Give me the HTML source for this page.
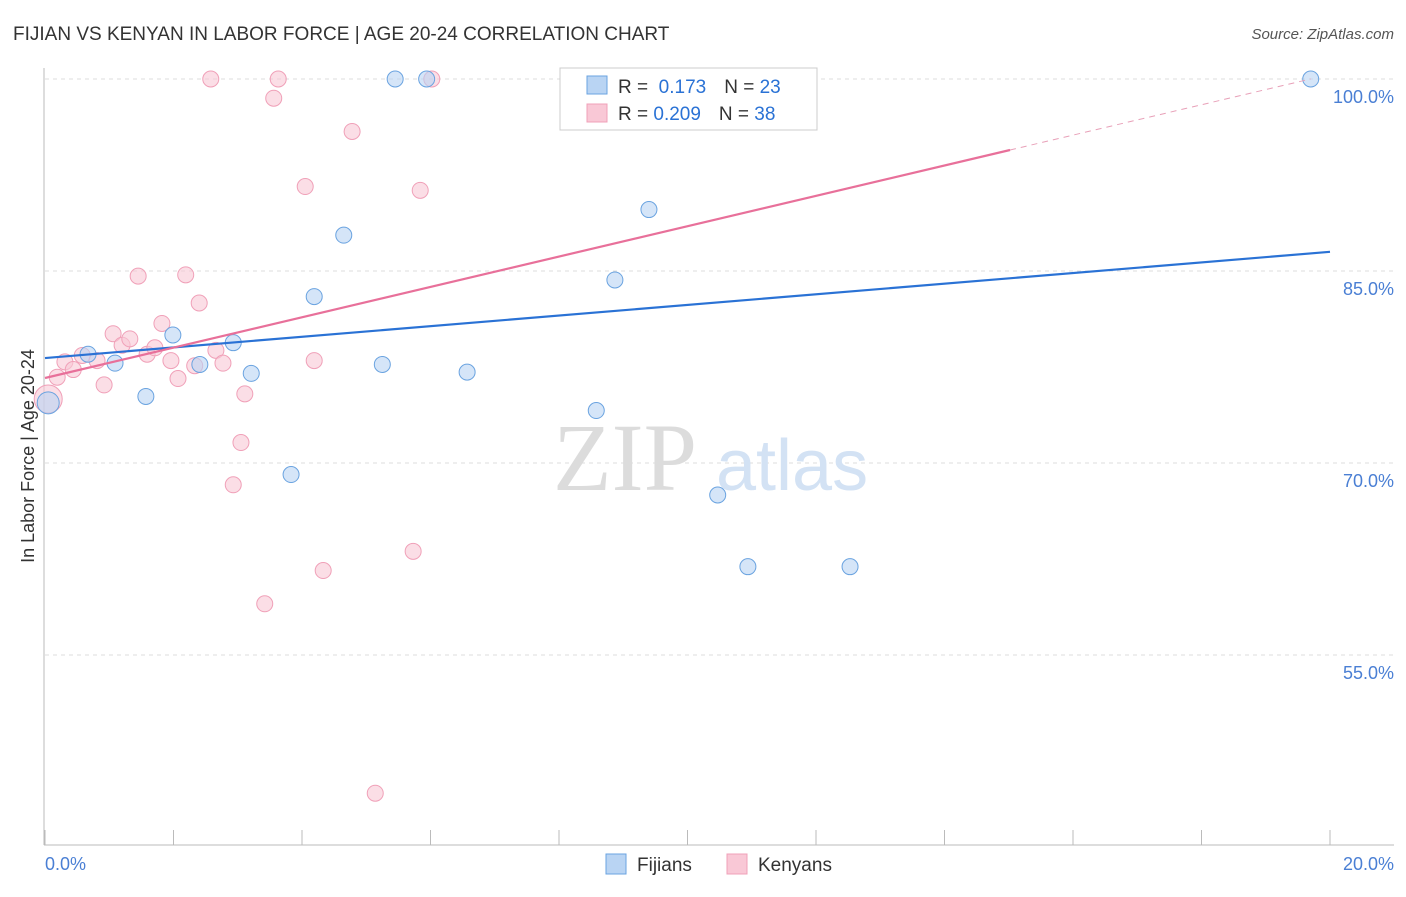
<!DOCTYPE html>
<html><head><meta charset="utf-8"><style>
body{margin:0;background:#fff;font-family:"Liberation Sans",sans-serif}
</style></head><body>
<svg width="1406" height="892" xmlns="http://www.w3.org/2000/svg" font-family="Liberation Sans, sans-serif">
<text x="13" y="40" font-size="19" fill="#333">FIJIAN VS KENYAN IN LABOR FORCE | AGE 20-24 CORRELATION CHART</text>
<text x="1394" y="39" font-size="15" fill="#555" text-anchor="end" font-style="italic">Source: ZipAtlas.com</text>
<g id="grid"></g>
<text x="553" y="490" font-size="96" fill="#dcdcdc" font-family="Liberation Serif, serif">ZIP</text>
<text x="716" y="490" font-size="72" fill="#d3e2f4">atlas</text>
<g id="pts"></g>
<g id="lines"></g>
<text transform="translate(34,456) rotate(-90)" font-size="18" fill="#333" text-anchor="middle">In Labor Force | Age 20-24</text>
<text x="45" y="870" font-size="18" fill="#4a7fd4">0.0%</text>
<text x="1394" y="870" font-size="18" fill="#4a7fd4" text-anchor="end">20.0%</text>
<g>
<rect x="560" y="68" width="257" height="62" fill="#fff" stroke="#ccc"/>
<rect x="587" y="76" width="20" height="18" fill="#b9d4f3" stroke="#6aa3e0"/>
<rect x="587" y="104" width="20" height="18" fill="#f9c8d6" stroke="#f0a0b8"/>
<text x="618" y="93" font-size="19" fill="#333">R = <tspan fill="#2a72d5">&#160;0.173</tspan><tspan dx="18">N = </tspan><tspan fill="#2a72d5">23</tspan></text>
<text x="618" y="120" font-size="19" fill="#333">R = <tspan fill="#2a72d5">0.209</tspan><tspan dx="18">N = </tspan><tspan fill="#2a72d5">38</tspan></text>
</g>
<g>
<rect x="606" y="854" width="20" height="20" fill="#b9d4f3" stroke="#6aa3e0"/>
<text x="637" y="871" font-size="19" fill="#333">Fijians</text>
<rect x="727" y="854" width="20" height="20" fill="#f9c8d6" stroke="#f0a0b8"/>
<text x="758" y="871" font-size="19" fill="#333">Kenyans</text>
</g>
</svg>
<script>
const yTicks=[100,85,70,55];
const yTickLabels=["100.0%","85.0%","70.0%","55.0%"];
const fijianX=[0.05,0.67,1.09,1.57,1.99,2.41,2.93,3.21,3.83,4.19,4.65,5.25,5.45,5.94,6.57,8.58,8.87,9.4,10.47,10.94,12.53,19.7,9.73];
const fijianY=[74.7,78.5,77.8,75.2,80.0,77.7,79.4,77.0,69.1,83.0,87.8,77.7,100,100,77.1,74.1,84.3,89.8,67.5,61.9,61.9,100,100];
const kenyanX=[0.05,0.19,0.31,0.44,0.58,0.81,0.92,1.06,1.2,1.32,1.45,1.59,1.71,1.82,1.96,2.07,2.19,2.33,2.4,2.66,2.58,2.77,2.93,3.05,3.11,3.42,3.56,3.63,4.05,4.19,4.33,4.78,5.14,5.73,5.84,6.02,10.35];
const kenyanY=[75.0,76.7,77.9,77.3,78.4,78.0,76.1,80.1,79.2,79.7,84.6,78.5,79.0,80.9,78.0,76.6,84.7,77.6,82.5,78.8,100,77.8,68.3,71.6,75.4,59.0,98.5,100,91.6,78.0,61.6,95.9,44.2,63.1,91.3,100,100];
const fijianSize=[14,9,9,9,9,9,9,9,9,9,9,9,9,9,9,9,9,9,9,9,9,9,9];
const blueLine=[78.2,0.415];
const pinkLine=[76.64,1.186,15.02,19.7];
const X=v=>45+v*64.25, Y=v=>79+(100-v)*12.8;
const NS="http://www.w3.org/2000/svg";
function mk(t,a,p){const e=document.createElementNS(NS,t);for(const k in a)e.setAttribute(k,a[k]);p.appendChild(e);return e;}
const grid=document.getElementById('grid');
yTicks.forEach((t,i)=>{
 const l=mk('line',{x1:45,x2:1394,y1:Y(t),y2:Y(t),stroke:'#ddd','stroke-dasharray':'4,4'},grid);
 
 
 const tx=mk('text',{x:1394,y:Y(t)+24,'font-size':18,fill:'#4a7fd4','text-anchor':'end'},grid);
 tx.textContent=yTickLabels[i];
 
 
});
const ax=mk('line',{x1:44,x2:44,y1:68,y2:845,stroke:'#bbb'},grid);


const bx=mk('line',{x1:44,x2:1394,y1:845,y2:845,stroke:'#bbb'},grid);


for(let i=0;i<=10;i++){const t=mk('line',{x1:X(i*2),x2:X(i*2),y1:830,y2:845,stroke:'#bbb'},grid);
 
 }
const pts=document.getElementById('pts');
kenyanX.forEach((x,i)=>{const c=mk('circle',{cx:X(x),cy:Y(kenyanY[i]),r:i==0?14:8,fill:'#f9c8d6','fill-opacity':0.6,stroke:'#f0a0b8','stroke-width':1},pts);
 
 });
fijianX.forEach((x,i)=>{const c=mk('circle',{cx:X(x),cy:Y(fijianY[i]),r:fijianSize[i]==14?11:8,fill:'#b9d4f3','fill-opacity':0.6,stroke:'#6aa3e0','stroke-width':1},pts);
 
 });
const lines=document.getElementById('lines');
const b=mk('line',{x1:X(0),y1:Y(blueLine[0]),x2:X(20),y2:Y(blueLine[0]+20*blueLine[1]),stroke:'#2a72d5','stroke-width':2.2},lines);


const p=mk('line',{x1:X(0),y1:Y(pinkLine[0]),x2:X(pinkLine[2]),y2:Y(pinkLine[0]+pinkLine[2]*pinkLine[1]),stroke:'#e8709a','stroke-width':2.2},lines);


const pd=mk('line',{x1:X(pinkLine[2]),y1:Y(pinkLine[0]+pinkLine[2]*pinkLine[1]),x2:X(pinkLine[3]),y2:Y(pinkLine[0]+pinkLine[3]*pinkLine[1]),stroke:'#e8a0b8','stroke-width':1,'stroke-dasharray':'6,5'},lines);


</script>
</body></html>
